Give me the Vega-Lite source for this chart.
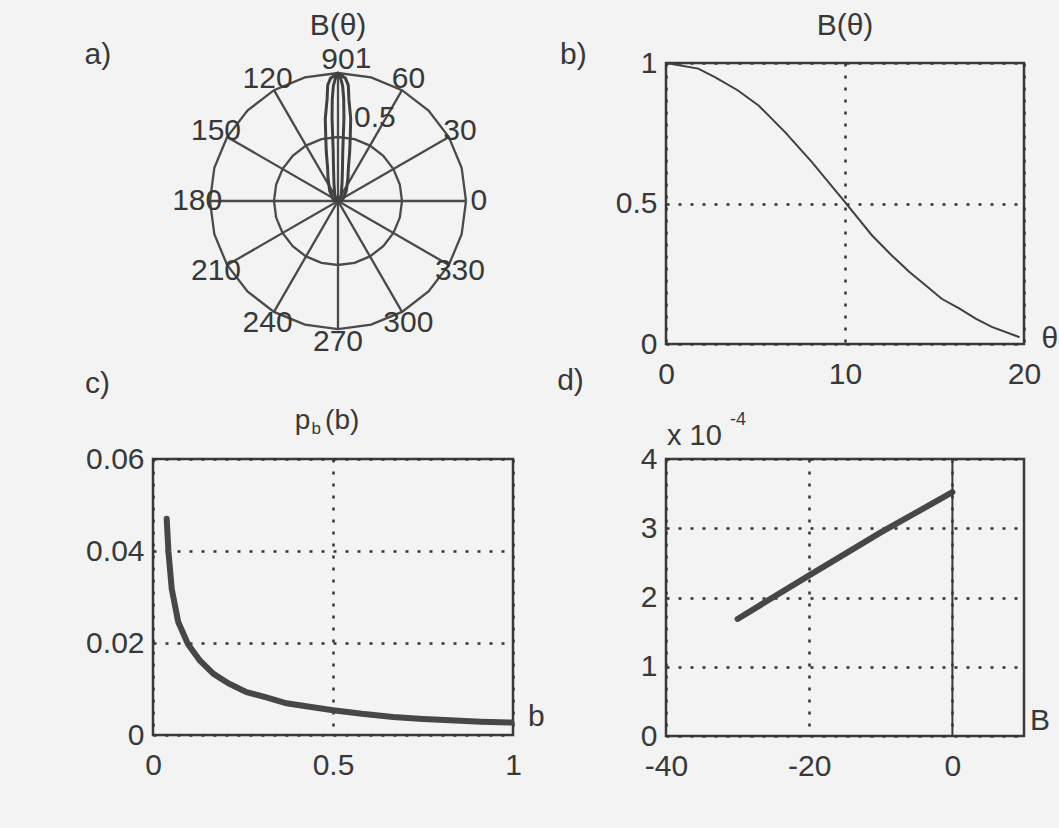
{
  "$schema": "https://vega.github.io/schema/vega-lite/v6.json",
  "background": "#f3f3f3",
  "padding": {"left": 83, "top": 9, "right": 2, "bottom": 56},
  "config": {
    "font": "Liberation Sans",
    "view": {"stroke": "#3a3a3a", "strokeWidth": 2.5},
    "axis": {
      "domain": false, "ticks": false, "labelFont": "Liberation Sans", "labelFontSize": 30,
      "labelColor": "#383838", "grid": true, "gridColor": "#333333", "gridDash": [3, 9],
      "gridWidth": 2.5, "labelFlush": false, "labelOverlap": false
    },
    "axisX": {"labelPadding": 15},
    "axisY": {"labelPadding": 9},
    "text": {"font": "Liberation Sans", "fontSize": 30, "color": "#383838"}
  },
  "datasets": {
    "circles": [
      {"r": 1, "deg": 0}, {"r": 1, "deg": 15}, {"r": 1, "deg": 30}, {"r": 1, "deg": 45}, {"r": 1, "deg": 60},
      {"r": 1, "deg": 75}, {"r": 1, "deg": 90}, {"r": 1, "deg": 105}, {"r": 1, "deg": 120}, {"r": 1, "deg": 135},
      {"r": 1, "deg": 150}, {"r": 1, "deg": 165}, {"r": 1, "deg": 180}, {"r": 1, "deg": 195}, {"r": 1, "deg": 210},
      {"r": 1, "deg": 225}, {"r": 1, "deg": 240}, {"r": 1, "deg": 255}, {"r": 1, "deg": 270}, {"r": 1, "deg": 285},
      {"r": 1, "deg": 300}, {"r": 1, "deg": 315}, {"r": 1, "deg": 330}, {"r": 1, "deg": 345}, {"r": 1, "deg": 360},
      {"r": 0.5, "deg": 0}, {"r": 0.5, "deg": 15}, {"r": 0.5, "deg": 30}, {"r": 0.5, "deg": 45}, {"r": 0.5, "deg": 60},
      {"r": 0.5, "deg": 75}, {"r": 0.5, "deg": 90}, {"r": 0.5, "deg": 105}, {"r": 0.5, "deg": 120}, {"r": 0.5, "deg": 135},
      {"r": 0.5, "deg": 150}, {"r": 0.5, "deg": 165}, {"r": 0.5, "deg": 180}, {"r": 0.5, "deg": 195}, {"r": 0.5, "deg": 210},
      {"r": 0.5, "deg": 225}, {"r": 0.5, "deg": 240}, {"r": 0.5, "deg": 255}, {"r": 0.5, "deg": 270}, {"r": 0.5, "deg": 285},
      {"r": 0.5, "deg": 300}, {"r": 0.5, "deg": 315}, {"r": 0.5, "deg": 330}, {"r": 0.5, "deg": 345}, {"r": 0.5, "deg": 360}
    ],
    "spokes": [{"deg": 0}, {"deg": 30}, {"deg": 60}, {"deg": 90}, {"deg": 120}, {"deg": 150}],
    "lobes": [
      {"lobe": "outer", "deg": 0, "r": 0}, {"lobe": "outer", "deg": 20, "r": 0.04}, {"lobe": "outer", "deg": 50, "r": 0.1},
      {"lobe": "outer", "deg": 66, "r": 0.19}, {"lobe": "outer", "deg": 73, "r": 0.28}, {"lobe": "outer", "deg": 76.6, "r": 0.394},
      {"lobe": "outer", "deg": 79, "r": 0.5}, {"lobe": "outer", "deg": 81.2, "r": 0.65}, {"lobe": "outer", "deg": 83.9, "r": 0.8},
      {"lobe": "outer", "deg": 84.9, "r": 0.907}, {"lobe": "outer", "deg": 86.5, "r": 0.96}, {"lobe": "outer", "deg": 90, "r": 1.0},
      {"lobe": "outer", "deg": 93.5, "r": 0.96}, {"lobe": "outer", "deg": 95.1, "r": 0.907}, {"lobe": "outer", "deg": 96.1, "r": 0.8},
      {"lobe": "outer", "deg": 98.8, "r": 0.65}, {"lobe": "outer", "deg": 101, "r": 0.5}, {"lobe": "outer", "deg": 103.4, "r": 0.394},
      {"lobe": "outer", "deg": 107, "r": 0.28}, {"lobe": "outer", "deg": 114, "r": 0.19}, {"lobe": "outer", "deg": 130, "r": 0.1},
      {"lobe": "outer", "deg": 160, "r": 0.04}, {"lobe": "outer", "deg": 180, "r": 0},
      {"lobe": "inner", "deg": 0, "r": 0}, {"lobe": "inner", "deg": 60, "r": 0.05}, {"lobe": "inner", "deg": 77, "r": 0.14},
      {"lobe": "inner", "deg": 82, "r": 0.25}, {"lobe": "inner", "deg": 84.5, "r": 0.39}, {"lobe": "inner", "deg": 85.9, "r": 0.65},
      {"lobe": "inner", "deg": 86.8, "r": 0.8}, {"lobe": "inner", "deg": 87.7, "r": 0.9}, {"lobe": "inner", "deg": 88.8, "r": 0.96},
      {"lobe": "inner", "deg": 90, "r": 0.98}, {"lobe": "inner", "deg": 91.2, "r": 0.96}, {"lobe": "inner", "deg": 92.3, "r": 0.9},
      {"lobe": "inner", "deg": 93.2, "r": 0.8}, {"lobe": "inner", "deg": 94.1, "r": 0.65}, {"lobe": "inner", "deg": 95.5, "r": 0.39},
      {"lobe": "inner", "deg": 98, "r": 0.25}, {"lobe": "inner", "deg": 103, "r": 0.14}, {"lobe": "inner", "deg": 120, "r": 0.05},
      {"lobe": "inner", "deg": 180, "r": 0}
    ],
    "polarLabels": [
      {"label": "0", "deg": 0, "r": 1.1}, {"label": "30", "deg": 30, "r": 1.1}, {"label": "60", "deg": 60, "r": 1.1},
      {"label": "90", "deg": 90, "r": 1.1}, {"label": "120", "deg": 120, "r": 1.1}, {"label": "150", "deg": 150, "r": 1.1},
      {"label": "180", "deg": 180, "r": 1.1}, {"label": "210", "deg": 210, "r": 1.1}, {"label": "240", "deg": 240, "r": 1.1},
      {"label": "270", "deg": 270, "r": 1.1}, {"label": "300", "deg": 300, "r": 1.1}, {"label": "330", "deg": 330, "r": 1.1},
      {"label": "0.5", "deg": 66, "r": 0.71}, {"label": "1", "deg": 80, "r": 1.13}
    ],
    "beam": [
      {"theta": 0, "B": 1.0}, {"theta": 1.8, "B": 0.98}, {"theta": 2.73, "B": 0.95}, {"theta": 4.0, "B": 0.903},
      {"theta": 5.17, "B": 0.849}, {"theta": 6.65, "B": 0.754}, {"theta": 8.14, "B": 0.648}, {"theta": 10.0, "B": 0.505},
      {"theta": 11.5, "B": 0.387}, {"theta": 12.6, "B": 0.316}, {"theta": 13.6, "B": 0.256}, {"theta": 14.5, "B": 0.209},
      {"theta": 15.4, "B": 0.161}, {"theta": 16.4, "B": 0.126}, {"theta": 17.3, "B": 0.09}, {"theta": 18.2, "B": 0.061},
      {"theta": 19.75, "B": 0.024}
    ],
    "pb": [
      {"b": 0.038, "p": 0.047}, {"b": 0.043, "p": 0.0398}, {"b": 0.052, "p": 0.0318}, {"b": 0.07, "p": 0.0246},
      {"b": 0.097, "p": 0.0198}, {"b": 0.13, "p": 0.0162}, {"b": 0.168, "p": 0.0133}, {"b": 0.21, "p": 0.0112},
      {"b": 0.26, "p": 0.0093}, {"b": 0.31, "p": 0.0083}, {"b": 0.371, "p": 0.0069}, {"b": 0.43, "p": 0.0062},
      {"b": 0.5, "p": 0.0054}, {"b": 0.58, "p": 0.0046}, {"b": 0.667, "p": 0.0039}, {"b": 0.75, "p": 0.0035},
      {"b": 0.825, "p": 0.0032}, {"b": 0.91, "p": 0.0029}, {"b": 0.996, "p": 0.0027}
    ],
    "lin": [
      {"B": -30, "v": 0.000169}, {"B": -20, "v": 0.000232}, {"B": -10, "v": 0.000294}, {"B": 0, "v": 0.000352}
    ]
  },
  "columns": 2,
  "spacing": {"row": 115, "column": 153},
  "bounds": "flush",
  "concat": [
    {
      "width": 360, "height": 281,
      "view": {"stroke": null},
      "layer": [
        {
          "data": {"name": "circles"},
          "transform": [
            {"calculate": "datum.r*cos(datum.deg*PI/180)", "as": "px"},
            {"calculate": "datum.r*sin(datum.deg*PI/180)", "as": "py"}
          ],
          "mark": {"type": "line", "color": "#4a4a4a", "strokeWidth": 2.3},
          "encoding": {
            "x": {"field": "px", "type": "quantitative", "scale": {"domain": [-1.445, 1.367], "nice": false, "zero": false}, "axis": null},
            "y": {"field": "py", "type": "quantitative", "scale": {"domain": [-1.117, 1.078], "nice": false, "zero": false}, "axis": null},
            "detail": {"field": "r"}, "order": {"field": "deg", "type": "quantitative"}
          }
        },
        {
          "data": {"name": "spokes"},
          "transform": [
            {"calculate": "cos(datum.deg*PI/180)", "as": "px"},
            {"calculate": "sin(datum.deg*PI/180)", "as": "py"},
            {"calculate": "-datum.px", "as": "px2"},
            {"calculate": "-datum.py", "as": "py2"}
          ],
          "mark": {"type": "rule", "color": "#4a4a4a", "strokeWidth": 2.3},
          "encoding": {
            "x": {"field": "px", "type": "quantitative", "scale": {"domain": [-1.445, 1.367], "nice": false, "zero": false}, "axis": null},
            "y": {"field": "py", "type": "quantitative", "scale": {"domain": [-1.117, 1.078], "nice": false, "zero": false}, "axis": null},
            "x2": {"field": "px2"}, "y2": {"field": "py2"}
          }
        },
        {
          "data": {"name": "lobes"},
          "transform": [
            {"calculate": "datum.r*cos(datum.deg*PI/180)", "as": "px"},
            {"calculate": "datum.r*sin(datum.deg*PI/180)", "as": "py"}
          ],
          "mark": {"type": "line", "color": "#404040", "strokeWidth": 3},
          "encoding": {
            "x": {"field": "px", "type": "quantitative", "scale": {"domain": [-1.445, 1.367], "nice": false, "zero": false}, "axis": null},
            "y": {"field": "py", "type": "quantitative", "scale": {"domain": [-1.117, 1.078], "nice": false, "zero": false}, "axis": null},
            "detail": {"field": "lobe"}, "order": {"field": "deg", "type": "quantitative"}
          }
        },
        {
          "data": {"name": "polarLabels"},
          "transform": [
            {"calculate": "datum.r*cos(datum.deg*PI/180)", "as": "px"},
            {"calculate": "datum.r*sin(datum.deg*PI/180)", "as": "py"}
          ],
          "mark": {"type": "text", "align": "center", "baseline": "middle"},
          "encoding": {
            "x": {"field": "px", "type": "quantitative", "scale": {"domain": [-1.445, 1.367], "nice": false, "zero": false}, "axis": null},
            "y": {"field": "py", "type": "quantitative", "scale": {"domain": [-1.117, 1.078], "nice": false, "zero": false}, "axis": null},
            "text": {"field": "label"}
          }
        },
        {
          "data": {"values": [{}]},
          "mark": {"type": "text", "align": "left", "baseline": "alphabetic"},
          "encoding": {
            "x": {"datum": -1.98, "scale": {"domain": [-1.445, 1.367], "nice": false, "zero": false}, "axis": null},
            "y": {"datum": 1.07, "scale": {"domain": [-1.117, 1.078], "nice": false, "zero": false}, "axis": null},
            "text": {"value": "a)"}
          }
        },
        {
          "data": {"values": [{}]},
          "mark": {"type": "text", "align": "center", "baseline": "alphabetic"},
          "encoding": {
            "x": {"datum": 0, "scale": {"domain": [-1.445, 1.367], "nice": false, "zero": false}, "axis": null},
            "y": {"datum": 1.297, "scale": {"domain": [-1.117, 1.078], "nice": false, "zero": false}, "axis": null},
            "text": {"value": "B(θ)"}
          }
        }
      ]
    },
    {
      "width": 358, "height": 281,
      "layer": [
        {
          "data": {"name": "beam"},
          "mark": {"type": "line", "color": "#3f3f3f", "strokeWidth": 2},
          "encoding": {
            "x": {"field": "theta", "type": "quantitative", "title": null, "scale": {"domain": [0, 20], "nice": false, "zero": false}, "axis": {"values": [0, 10, 20]}},
            "y": {"field": "B", "type": "quantitative", "title": null, "scale": {"domain": [0, 1], "nice": false, "zero": false}, "axis": {"values": [0, 0.5, 1], "format": "~g"}}
          }
        },
        {
          "data": {"values": [{}]},
          "mark": {"type": "text", "align": "left", "baseline": "alphabetic"},
          "encoding": {
            "x": {"datum": -5.92, "scale": {"domain": [0, 20], "nice": false, "zero": false}},
            "y": {"datum": 0.996, "scale": {"domain": [0, 1], "nice": false, "zero": false}},
            "text": {"value": "b)"}
          }
        },
        {
          "data": {"values": [{}]},
          "mark": {"type": "text", "align": "center", "baseline": "alphabetic"},
          "encoding": {
            "x": {"datum": 10, "scale": {"domain": [0, 20], "nice": false, "zero": false}},
            "y": {"datum": 1.0996, "scale": {"domain": [0, 1], "nice": false, "zero": false}},
            "text": {"value": "B(θ)"}
          }
        },
        {
          "data": {"values": [{}]},
          "mark": {"type": "text", "align": "center", "baseline": "middle"},
          "encoding": {
            "x": {"datum": 21.45, "scale": {"domain": [0, 20], "nice": false, "zero": false}},
            "y": {"datum": 0.018, "scale": {"domain": [0, 1], "nice": false, "zero": false}},
            "text": {"value": "θ"}
          }
        }
      ]
    },
    {
      "width": 360, "height": 276,
      "layer": [
        {
          "data": {"name": "pb"},
          "mark": {"type": "line", "color": "#474747", "strokeWidth": 6, "strokeCap": "round"},
          "encoding": {
            "x": {"field": "b", "type": "quantitative", "title": null, "scale": {"domain": [0, 1], "nice": false, "zero": false}, "axis": {"values": [0, 0.5, 1], "format": "~g"}},
            "y": {"field": "p", "type": "quantitative", "title": null, "scale": {"domain": [0, 0.06], "nice": false, "zero": false}, "axis": {"values": [0, 0.02, 0.04, 0.06], "format": ".2~f"}}
          }
        },
        {
          "data": {"values": [{}]},
          "mark": {"type": "text", "align": "left", "baseline": "alphabetic"},
          "encoding": {
            "x": {"datum": -0.189, "scale": {"domain": [0, 1], "nice": false, "zero": false}},
            "y": {"datum": 0.0743, "scale": {"domain": [0, 0.06], "nice": false, "zero": false}},
            "text": {"value": "c)"}
          }
        },
        {
          "data": {"values": [{}]},
          "mark": {"type": "text", "align": "left", "baseline": "alphabetic", "fontSize": 28},
          "encoding": {
            "x": {"datum": 0.394, "scale": {"domain": [0, 1], "nice": false, "zero": false}},
            "y": {"datum": 0.0665, "scale": {"domain": [0, 0.06], "nice": false, "zero": false}},
            "text": {"value": "p"}
          }
        },
        {
          "data": {"values": [{}]},
          "mark": {"type": "text", "align": "left", "baseline": "alphabetic", "fontSize": 17},
          "encoding": {
            "x": {"datum": 0.44, "scale": {"domain": [0, 1], "nice": false, "zero": false}},
            "y": {"datum": 0.0654, "scale": {"domain": [0, 0.06], "nice": false, "zero": false}},
            "text": {"value": "b"}
          }
        },
        {
          "data": {"values": [{}]},
          "mark": {"type": "text", "align": "left", "baseline": "alphabetic", "fontSize": 28},
          "encoding": {
            "x": {"datum": 0.478, "scale": {"domain": [0, 1], "nice": false, "zero": false}},
            "y": {"datum": 0.0665, "scale": {"domain": [0, 0.06], "nice": false, "zero": false}},
            "text": {"value": "(b)"}
          }
        },
        {
          "data": {"values": [{}]},
          "mark": {"type": "text", "align": "left", "baseline": "alphabetic"},
          "encoding": {
            "x": {"datum": 1.042, "scale": {"domain": [0, 1], "nice": false, "zero": false}},
            "y": {"datum": 0.002, "scale": {"domain": [0, 0.06], "nice": false, "zero": false}},
            "text": {"value": "b"}
          }
        }
      ]
    },
    {
      "width": 358, "height": 277,
      "layer": [
        {
          "data": {"name": "lin"},
          "mark": {"type": "line", "color": "#474747", "strokeWidth": 6, "strokeCap": "round"},
          "encoding": {
            "x": {"field": "B", "type": "quantitative", "title": null, "scale": {"domain": [-40, 10], "nice": false, "zero": false}, "axis": {"values": [-40, -20, 0], "labelExpr": "'' + datum.value"}},
            "y": {"field": "v", "type": "quantitative", "title": null, "scale": {"domain": [0, 0.0004], "nice": false, "zero": false}, "axis": {"values": [0, 0.0001, 0.0002, 0.0003, 0.0004], "labelExpr": "'' + round(datum.value*10000)"}}
          }
        },
        {
          "data": {"values": [{}]},
          "mark": {"type": "rule", "color": "#3a3a3a", "strokeWidth": 2},
          "encoding": {
            "x": {"datum": 0, "scale": {"domain": [-40, 10], "nice": false, "zero": false}}
          }
        },
        {
          "data": {"values": [{}]},
          "mark": {"type": "text", "align": "left", "baseline": "alphabetic"},
          "encoding": {
            "x": {"datum": -55.2, "scale": {"domain": [-40, 10], "nice": false, "zero": false}},
            "y": {"datum": 0.0004996, "scale": {"domain": [0, 0.0004], "nice": false, "zero": false}},
            "text": {"value": "d)"}
          }
        },
        {
          "data": {"values": [{}]},
          "mark": {"type": "text", "align": "left", "baseline": "alphabetic", "fontSize": 29},
          "encoding": {
            "x": {"datum": -39.86, "scale": {"domain": [-40, 10], "nice": false, "zero": false}},
            "y": {"datum": 0.0004202, "scale": {"domain": [0, 0.0004], "nice": false, "zero": false}},
            "text": {"value": "x 10"}
          }
        },
        {
          "data": {"values": [{}]},
          "mark": {"type": "text", "align": "left", "baseline": "alphabetic", "fontSize": 18},
          "encoding": {
            "x": {"datum": -31.06, "scale": {"domain": [-40, 10], "nice": false, "zero": false}},
            "y": {"datum": 0.0004491, "scale": {"domain": [0, 0.0004], "nice": false, "zero": false}},
            "text": {"value": "-4"}
          }
        },
        {
          "data": {"values": [{}]},
          "mark": {"type": "text", "align": "left", "baseline": "alphabetic"},
          "encoding": {
            "x": {"datum": 10.84, "scale": {"domain": [-40, 10], "nice": false, "zero": false}},
            "y": {"datum": 0.0000087, "scale": {"domain": [0, 0.0004], "nice": false, "zero": false}},
            "text": {"value": "B"}
          }
        }
      ]
    }
  ]
}
